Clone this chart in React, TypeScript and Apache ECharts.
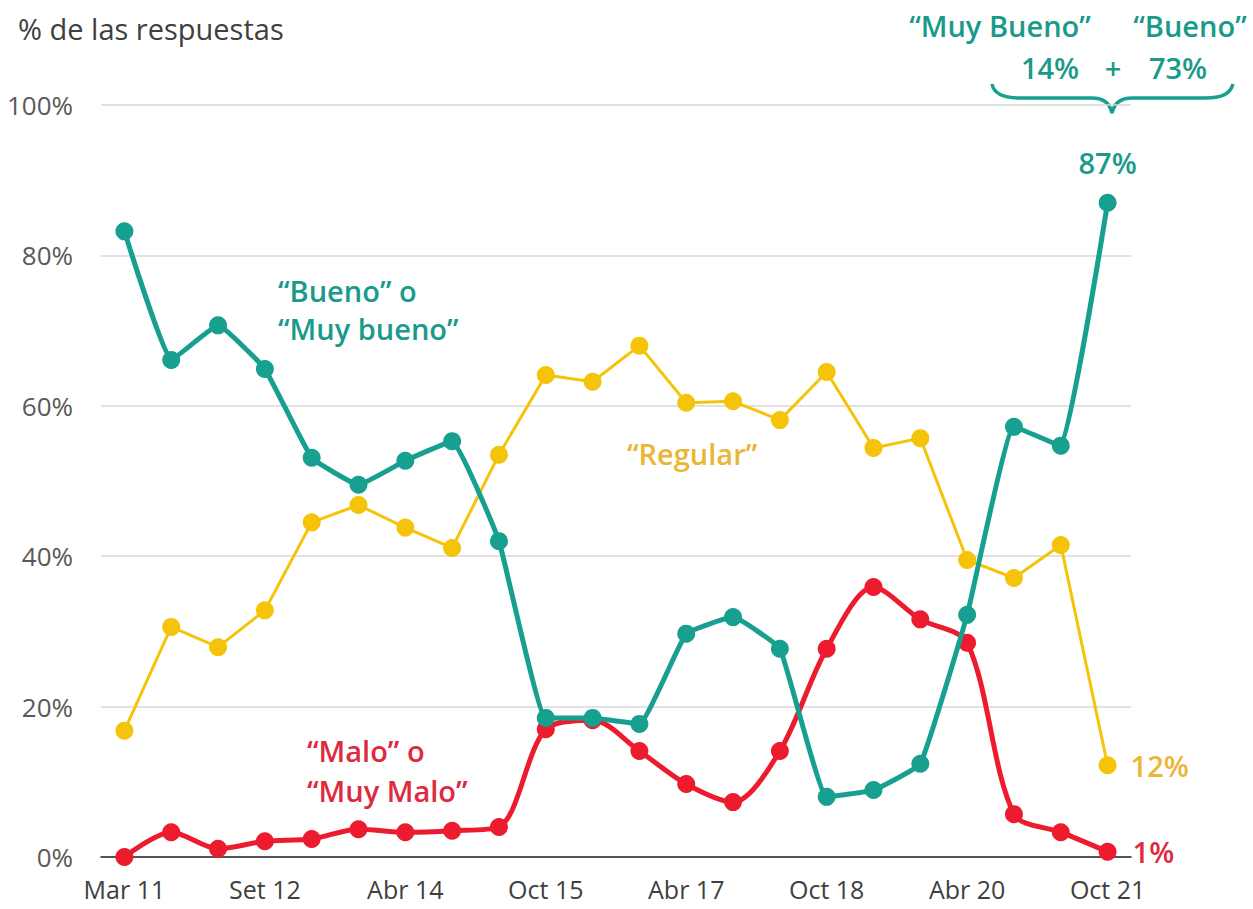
import React, { useEffect, useRef } from "react";
import * as echarts from "echarts";

const categories = [
  "Mar 11", "Set 11", "Mar 12", "Set 12", "Mar 13", "Set 13", "Abr 14", "Oct 14",
  "Abr 15", "Oct 15", "Abr 16", "Oct 16", "Abr 17", "Oct 17", "Abr 18", "Oct 18",
  "Abr 19", "Oct 19", "Abr 20", "Oct 20", "Abr 21", "Oct 21",
];

const bueno = [83.2, 66.1, 70.7, 64.9, 53.1, 49.5, 52.7, 55.3, 42.0, 18.5, 18.5, 17.7, 29.7, 31.9, 27.7, 8.0, 8.9, 12.4, 32.2, 57.2, 54.7, 87];
const regular = [16.8, 30.6, 27.9, 32.8, 44.5, 46.8, 43.8, 41.1, 53.5, 64.1, 63.2, 68.0, 60.4, 60.6, 58.1, 64.5, 54.4, 55.7, 39.5, 37.1, 41.5, 12.2];
const malo = [0, 3.3, 1.1, 2.1, 2.4, 3.7, 3.3, 3.5, 4.0, 17.0, 18.2, 14.1, 9.7, 7.3, 14.1, 27.7, 35.9, 31.6, 28.5, 5.7, 3.3, 0.7];

const lastLabels = { bueno: "87%", regular: "12%", malo: "1%" };

const TEAL = "#17A08F";
const TEAL_TXT = "#1A9A8A";
const YELLOW = "#F5C40A";
const YELLOW_TXT = "#EAB634";
const RED = "#EC1C2E";
const RED_TXT = "#DE2A40";
const FONT = "'Open Sans', Lato, sans-serif";

let braceRegistered = false;
function registerBrace() {
  if (braceRegistered) return;
  const d =
    "M992,84 C994,95 1005,98 1020,98 L1092,98 C1104,98 1110,104 1112,113 C1114,104 1120,98 1132,98 L1205,98 C1220,98 1230,95 1233,84";
  echarts.graphic.registerShape("brace", echarts.graphic.extendPath(d, {}) as any);
  braceRegistered = true;
}

function withLastLabel(values: number[], text: string, label: any) {
  return values.map((v, i) =>
    i === values.length - 1
      ? { value: v, label: { show: true, formatter: text, ...label } }
      : v
  );
}

export default function App() {
  const ref = useRef<HTMLDivElement>(null);

  useEffect(() => {
    if (!ref.current) return;
    registerBrace();
    const chart = echarts.init(ref.current, null, { renderer: "svg" });

    const txt = (text: string, x: number, y: number, color: string, size: number, weight: any = "normal", align = "left") => ({
      type: "text",
      x,
      y,
      style: {
        text,
        fill: color,
        font: `${weight} ${size}px ${FONT}`,
        textAlign: align,
        textVerticalAlign: "middle",
      },
    });

    chart.setOption({
      animation: false,
      backgroundColor: "#ffffff",
      grid: { left: 101, right: 122, top: 105, bottom: 52, containLabel: false },
      xAxis: {
        type: "category",
        data: categories,
        boundaryGap: true,
        axisLine: { show: true, lineStyle: { color: "#262626", width: 1.5 } },
        axisTick: { show: false },
        axisLabel: {
          interval: 2,
          color: "#404040",
          fontFamily: FONT,
          fontSize: 25,
          lineHeight: 25,
          margin: 19,
        },
        splitLine: { show: false },
      },
      yAxis: {
        type: "value",
        min: 0,
        max: 100,
        interval: 20,
        axisLine: { show: false },
        axisTick: { show: false },
        axisLabel: {
          formatter: "{value}%",
          color: "#595959",
          fontFamily: FONT,
          fontSize: 26,
          margin: 28,
        },
        splitLine: { lineStyle: { color: "#D9D9D9", width: 1.5 } },
      },
      series: [
        {
          name: "Regular",
          type: "line",
          data: withLastLabel(regular, lastLabels.regular, {
            position: "right",
            distance: 14,
            color: YELLOW_TXT,
            fontFamily: FONT,
            fontSize: 29,
            fontWeight: 600,
          }),
          symbol: "circle",
          symbolSize: 18,
          lineStyle: { color: YELLOW, width: 3 },
          itemStyle: { color: YELLOW },
          z: 2,
        },
        {
          name: "Malo",
          type: "line",
          data: withLastLabel(malo, lastLabels.malo, {
            position: "right",
            distance: 16,
            color: RED_TXT,
            fontFamily: FONT,
            fontSize: 29,
            fontWeight: 600,
          }),
          smooth: 0.3,
          symbol: "circle",
          symbolSize: 18,
          lineStyle: { color: RED, width: 5 },
          itemStyle: { color: RED },
          z: 3,
        },
        {
          name: "Bueno",
          type: "line",
          data: withLastLabel(bueno, lastLabels.bueno, {
            position: "top",
            distance: 17,
            color: TEAL_TXT,
            fontFamily: FONT,
            fontSize: 29,
            fontWeight: 600,
          }),
          smooth: 0.1,
          symbol: "circle",
          symbolSize: 18,
          lineStyle: { color: TEAL, width: 5 },
          itemStyle: { color: TEAL },
          z: 4,
        },
      ],
      graphic: [
        txt("% de las respuestas", 18, 28, "#404040", 29),
        txt("\u201CMuy Bueno\u201D", 1000, 25, TEAL_TXT, 29, 600, "center"),
        txt("\u201CBueno\u201D", 1190, 25, TEAL_TXT, 29, 600, "center"),
        txt("14%", 1050, 67, TEAL_TXT, 29, 600, "center"),
        txt("+", 1113, 67, TEAL_TXT, 29, 600, "center"),
        txt("73%", 1178, 67, TEAL_TXT, 29, 600, "center"),
        {
          type: "brace",
          x: 0,
          y: 0,
          style: { stroke: TEAL, lineWidth: 3.5, fill: "none" },
        },
        txt("\u201CBueno\u201D o", 278, 290, TEAL_TXT, 29, 600),
        txt("\u201CMuy bueno\u201D", 278, 328, TEAL_TXT, 29, 600),
        txt("\u201CRegular\u201D", 627, 453, YELLOW_TXT, 29, 600),
        txt("\u201CMalo\u201D o", 307, 750, RED_TXT, 29, 600),
        txt("\u201CMuy Malo\u201D", 307, 790, RED_TXT, 29, 600),
      ],
    });

    return () => chart.dispose();
  }, []);

  return (
    <div
      ref={ref}
      style={{ position: "fixed", left: 0, top: 0, width: 1253, height: 909, background: "#fff" }}
    />
  );
}
